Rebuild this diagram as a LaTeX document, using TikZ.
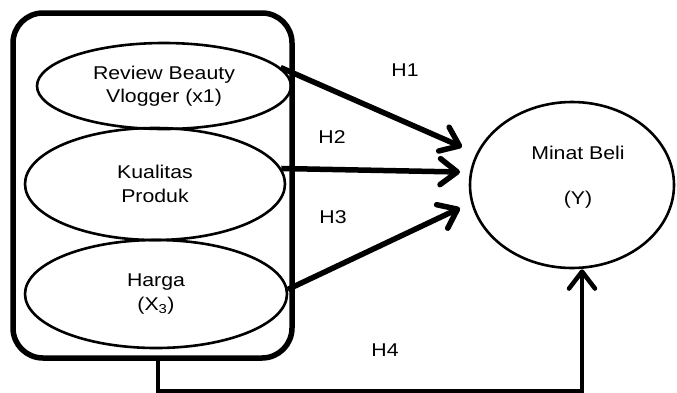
\documentclass[tikz,border=0pt]{standalone}
\usepackage{fontspec}
\setmainfont[FakeStretch=1.15]{Liberation Sans}
\usetikzlibrary{shapes.geometric,arrows.meta}
\tikzset{
  ell/.style={draw, ellipse, line width=2.6pt, inner sep=0pt, align=center,
    font=\fontsize{18.5}{23.5}\selectfont},
  lbl/.style={font=\fontsize{18.5}{23.5}\selectfont, inner sep=0pt},
  arr/.style={line width=5.5pt, -{Straight Barb[length=17pt,width=26pt,line cap=round,line join=round]}},
  frame/.style={draw, rectangle, rounded corners=30pt, line width=5.5pt}
}
\begin{document}
\begin{tikzpicture}[x=1pt,y=-1pt]
\useasboundingbox (0,0) rectangle (677,392);
\node[frame, minimum width=279pt, minimum height=345pt] (box) at (152.5,185.5) {};
\node[ell, minimum width=254pt, minimum height=86pt] (e1) at (164,86) {Review Beauty\\Vlogger (x1)};
\node[ell, minimum width=260pt, minimum height=112pt] (e2) at (155,184) {Kualitas\\Produk};
\node[ell, minimum width=262pt, minimum height=108pt] (e3) at (156,294) {Harga\\(X\textsubscript{3})};
\node[ell, minimum width=204pt, minimum height=166pt] (m) at (572,185) {};
\node[lbl] (mt1) at (578,153) {Minat Beli};
\node[lbl] (mt2) at (578,200) {(Y)};
\coordinate (t1) at (462,147);
\coordinate (t2) at (460,172);
\coordinate (t3) at (460,208);
\draw[arr] (e1.9) -- (t1);
\draw[arr] (e2.7) -- (t2);
\draw[arr] (e3.2) -- (t3);
\draw[line width=4.5pt, -{Straight Barb[length=17pt,width=26pt,line cap=round,line join=round]}]
  ([xshift=5.5pt]box.south) -- ++(0,30) -| ([xshift=10pt]m.south);
\node[lbl] (h1) at (405,70) {H1};
\node[lbl] (h2) at (332,137) {H2};
\node[lbl] (h3) at (333,217) {H3};
\node[lbl] (h4) at (385,350) {H4};
\end{tikzpicture}
\end{document}
